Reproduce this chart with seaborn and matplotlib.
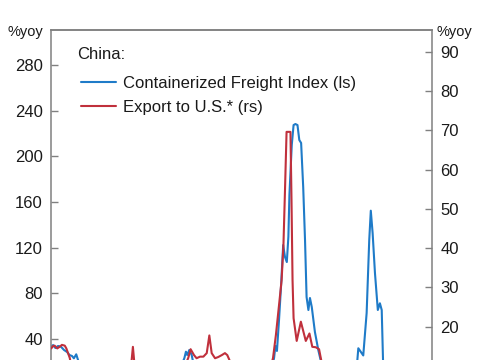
import matplotlib
matplotlib.use("Agg")
import matplotlib.pyplot as plt
from matplotlib.ticker import MultipleLocator
import seaborn as sns
import pandas as pd

# ---- data (x in decimal years, values in %yoy) ----
freight_x = [2012.00, 2012.08, 2012.17, 2012.27, 2012.38, 2012.50, 2012.62, 2012.71, 2012.81, 2012.88,
             2012.97, 2013.04, 2013.12, 2013.31, 2013.50, 2013.88, 2014.27, 2014.65, 2015.04, 2015.42,
             2015.81, 2016.19, 2016.58, 2016.88, 2017.04, 2017.13, 2017.19, 2017.24, 2017.32, 2017.41,
             2017.45, 2017.54, 2017.73, 2017.92, 2018.31, 2018.69, 2019.08, 2019.46, 2019.85, 2020.12,
             2020.35, 2020.50, 2020.58, 2020.63, 2020.69, 2020.77, 2020.85, 2020.93, 2021.00, 2021.07,
             2021.13, 2021.17, 2021.26, 2021.33, 2021.40, 2021.48, 2021.55, 2021.62, 2021.70, 2021.77,
             2021.83, 2021.90, 2021.96, 2022.03, 2022.15, 2022.28, 2022.37, 2022.50, 2022.73, 2022.92,
             2023.12, 2023.31, 2023.50, 2023.69, 2023.77, 2023.82, 2023.92, 2024.01, 2024.14, 2024.24,
             2024.30, 2024.37, 2024.46, 2024.57, 2024.65, 2024.72, 2024.77, 2024.85, 2025.04, 2025.23,
             2025.42, 2025.62, 2025.81]
freight_yoy = [33.0, 34.7, 32.1, 33.9, 33.3, 30.4, 28.6, 26.0, 25.1, 23.1,
               26.6, 21.6, 15.0, 8.0, 5.0, -5.0, 2.0, -10.0, -3.0, 6.0,
               -2.0, 3.0, 10.0, 15.0, 18.0, 23.3, 28.9, 26.0, 30.4, 26.0,
               21.6, 12.0, 5.0, 0.0, -8.0, -15.0, -10.0, -20.0, -15.0, -5.0,
               5.0, 15.0, 23.4, 33.9, 29.5, 56.7, 87.3, 122.3, 111.8, 107.4,
               129.6, 166.1, 209.9, 227.4, 228.3, 227.4, 214.3, 211.7, 173.1, 126.7,
               76.8, 65.4, 75.9, 68.0, 46.2, 30.4, 21.6, 10.0, 0.0, -10.0,
               -20.0, -15.0, -5.0, 10.0, 18.0, 31.9, 28.6, 25.6, 62.8, 126.7,
               152.4, 132.8, 97.8, 65.4, 71.3, 65.4, 21.6, 5.0, -5.0, 0.0,
               -10.0, -5.0, -8.0]

export_x = [2012.01, 2012.08, 2012.14, 2012.24, 2012.33, 2012.42, 2012.53, 2012.59, 2012.72, 2012.81,
            2013.04, 2013.31, 2013.69, 2014.08, 2014.46, 2014.85, 2015.08, 2015.15, 2015.23, 2015.50,
            2015.81, 2016.19, 2016.58, 2016.88, 2017.15, 2017.28, 2017.37, 2017.50, 2017.60, 2017.73,
            2017.86, 2017.99, 2018.09, 2018.18, 2018.31, 2018.43, 2018.57, 2018.69, 2018.78, 2018.86,
            2019.00, 2019.27, 2019.58, 2019.85, 2020.12, 2020.35, 2020.46, 2020.54, 2020.65, 2020.77,
            2020.87, 2020.94, 2021.00, 2021.06, 2021.21, 2021.25, 2021.29, 2021.33, 2021.45, 2021.61,
            2021.80, 2021.94, 2022.05, 2022.18, 2022.31, 2022.39, 2022.54, 2022.73, 2023.12, 2023.50,
            2023.88, 2024.27, 2024.65, 2025.04, 2025.42]
export_yoy = [14.5, 15.1, 15.2, 14.5, 14.9, 15.4, 15.2, 14.5, 12.1, 9.0,
              6.0, 4.0, 7.0, 3.0, 5.0, 8.0, 10.0, 14.9, 9.0, 6.0,
              3.0, 5.0, 2.0, 6.0, 10.0, 12.1, 14.3, 12.8, 12.0, 12.4,
              12.4, 13.3, 17.8, 13.3, 12.0, 12.3, 12.8, 13.3, 12.8, 11.6,
              8.0, 3.0, -2.0, -5.0, 0.0, 6.0, 10.0, 12.1, 17.9, 25.5,
              31.9, 40.8, 54.8, 69.6, 69.6, 52.3, 31.9, 22.2, 16.4, 21.3,
              16.4, 18.3, 14.9, 14.8, 14.3, 11.6, 8.0, 5.0, -5.0, -3.0,
              2.0, 5.0, 4.0, -5.0, -3.0]

legend_title = "China:"
freight_label = "Containerized Freight Index (ls)"
export_label = "Export to U.S.* (rs)"
unit_label = "%yoy"

BLUE = "#1f7bc8"
RED = "#c0303c"
GREY = "#808080"
TXT = "#1a1a1a"

sns.set_style("white")
plt.rcParams["font.family"] = ["Liberation Sans", "DejaVu Sans"]

W, H = 485, 360
fig = plt.figure(figsize=(W / 100, H / 100), dpi=100)
ax = fig.add_axes([51 / W, -0.2, 381 / W, 1 - 30 / H + 0.2])
ax2 = ax.twinx()

freight = pd.DataFrame({"x": freight_x, "y": freight_yoy})
export = pd.DataFrame({"x": export_x, "y": export_yoy})

sns.lineplot(data=freight, x="x", y="y", ax=ax, color=BLUE, lw=1.5, label=freight_label, legend=False)
sns.lineplot(data=export, x="x", y="y", ax=ax2, color=RED, lw=1.5, label=export_label, legend=False)

ax.set_xlim(2012.0, 2012.0 + 381 / 26)
ax.set_ylim(-41.45, 310.66)
ax2.set_ylim(-6.77, 95.52)
ax.yaxis.set_major_locator(MultipleLocator(40))
ax2.yaxis.set_major_locator(MultipleLocator(10))
ax.set_xlabel("")
ax.set_ylabel("")
ax2.set_ylabel("")
ax.set_xticks([])

for a in (ax, ax2):
    for s in a.spines.values():
        s.set_color(GREY)
        s.set_linewidth(1.1)
    a.tick_params(axis="y", direction="in", length=5, width=1.0, color=GREY,
                  labelsize=12, labelcolor=TXT, pad=6)
ax2.spines["left"].set_visible(False)
ax.spines["right"].set_visible(False)

fig.text(43 / W, 1 - 36 / H, unit_label, ha="right", va="baseline", fontsize=10.5, color=TXT)
fig.text(437 / W, 1 - 36 / H, unit_label, ha="left", va="baseline", fontsize=10.5, color=TXT)
fig.text(77 / W, 1 - 59 / H, legend_title, ha="left", va="baseline", fontsize=12, color=TXT)

h1, l1 = ax.get_legend_handles_labels()
h2, l2 = ax2.get_legend_handles_labels()
leg = ax2.legend(h1 + h2, l1 + l2, loc="upper left",
                 bbox_to_anchor=(81 / W, 1 - 76 / H), bbox_transform=fig.transFigure,
                 frameon=False, fontsize=12,
                 handlelength=2.1, handletextpad=0.4, labelspacing=0.55,
                 borderpad=0, borderaxespad=0)
for t in leg.get_texts():
    t.set_color(TXT)

fig.savefig("out.png", dpi=100)
